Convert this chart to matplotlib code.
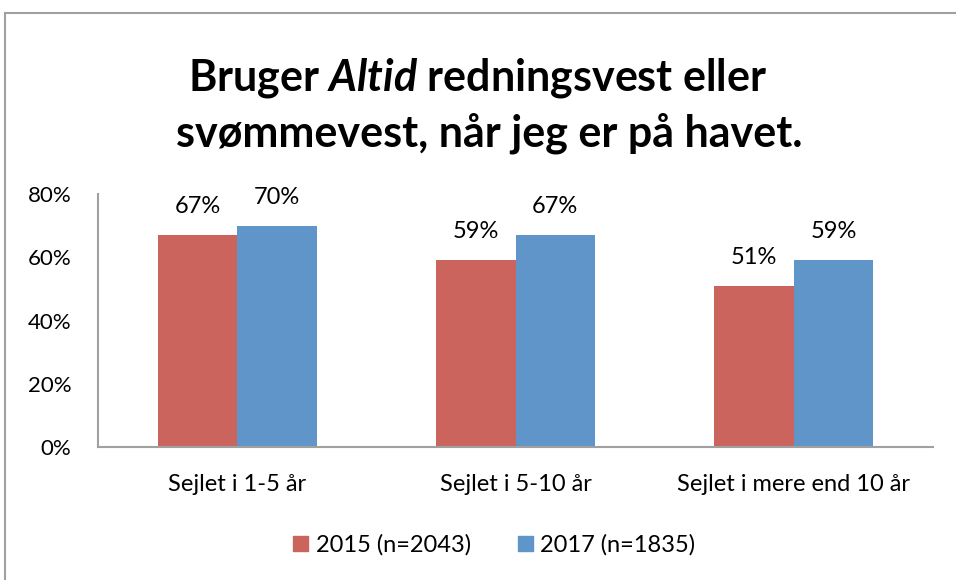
import matplotlib
matplotlib.use("Agg")
import matplotlib.pyplot as plt
import numpy as np
from matplotlib.lines import Line2D
from matplotlib.patches import Patch

# data
categories = ["Sejlet i 1-5 år", "Sejlet i 5-10 år", "Sejlet i mere end 10 år"]
series_names = ["2015 (n=2043)", "2017 (n=1835)"]
vals_2015 = [67, 59, 51]
vals_2017 = [70, 67, 59]
yticks = [0, 20, 40, 60, 80]

RED = "#CC645E"
BLUE = "#5F95C8"
AXIS = "#A0A0A0"

plt.rcParams["font.family"] = ["Lato", "DejaVu Sans"]
plt.rcParams["mathtext.fontset"] = "custom"
plt.rcParams["mathtext.rm"] = "Lato:bold"
plt.rcParams["mathtext.it"] = "Lato:bold:italic"

fig = plt.figure(figsize=(9.56, 5.8), dpi=100, facecolor="white")
ax = fig.add_axes([0.1025, 0.229, 0.8735, 0.4365])

x = np.arange(len(categories))
w = 1 / 3.5
ax.bar(x - w / 2, vals_2015, width=w, color=RED, zorder=2)
ax.bar(x + w / 2, vals_2017, width=w, color=BLUE, zorder=2)

for xi, v in zip(x - w / 2, vals_2015):
    ax.annotate(f"{v}%", (xi, v), xytext=(0, 13), textcoords="offset points",
                ha="center", va="bottom", fontsize=17)
for xi, v in zip(x + w / 2, vals_2017):
    ax.annotate(f"{v}%", (xi, v), xytext=(0, 13), textcoords="offset points",
                ha="center", va="bottom", fontsize=17)

ax.set_xlim(-0.5, 2.5)
ax.set_ylim(0, 80)
ax.set_yticks(yticks)
ax.set_yticklabels([f"{t}%" for t in yticks], fontsize=16)
ax.set_xticks(x)
ax.set_xticklabels(categories, fontsize=17)
ax.tick_params(axis="y", length=0, pad=19)
ax.tick_params(axis="x", length=0, pad=19)
for s in ["top", "right"]:
    ax.spines[s].set_visible(False)
for s in ["left", "bottom"]:
    ax.spines[s].set_color(AXIS)
    ax.spines[s].set_linewidth(1.5)

fig.text(0.5, 1 - 78 / 580, r"Bruger $Altid$ redningsvest eller",
         ha="center", va="center", fontsize=31, fontweight="bold")
fig.text(0.512, 1 - 133 / 580, "svømmevest, når jeg er på havet.",
         ha="center", va="center", fontsize=31, fontweight="bold")

handles = [Patch(color=RED, label=series_names[0]),
           Patch(color=BLUE, label=series_names[1])]
fig.legend(handles=handles, loc="center", bbox_to_anchor=(0.517, 1 - 545 / 580),
           ncol=2, frameon=False, fontsize=17, handlelength=0.65, handleheight=0.65,
           handletextpad=0.3, columnspacing=2.0)

# outer frame
fig.add_artist(Line2D([5 / 956, 5 / 956], [0, 1 - 13 / 580], color=AXIS, lw=1.5,
                      transform=fig.transFigure))
fig.add_artist(Line2D([5 / 956, 1], [1 - 13 / 580, 1 - 13 / 580], color=AXIS, lw=1.5,
                      transform=fig.transFigure))

fig.savefig("out.png", dpi=100, facecolor="white")
